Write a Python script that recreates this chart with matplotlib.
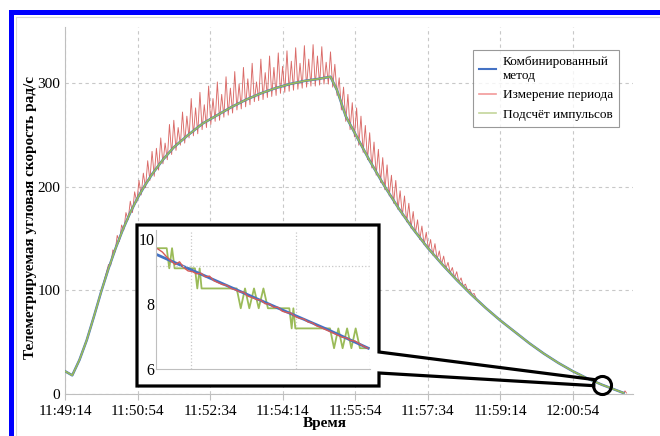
import numpy as np
import matplotlib.pyplot as plt
from matplotlib.lines import Line2D

plt.rcParams['font.family'] = ['Liberation Serif', 'DejaVu Serif']

# time in seconds from 11:49:14
tick_t = [0, 100, 200, 300, 400, 500, 600, 700]
tick_labels = ['11:49:14', '11:50:54', '11:52:34', '11:54:14',
               '11:55:54', '11:57:34', '11:59:14', '12:00:54']

# combined method / pulse count (main scale)
comb_t = [0, 10, 20, 30, 40, 50, 60, 70, 80, 90, 100, 110, 120, 135, 150, 170,
          190, 210, 230, 250, 270, 290, 310, 330, 350, 366, 375, 387, 400, 420,
          440, 460, 480, 500, 520, 540, 560, 580, 600, 620, 640, 660, 680, 700,
          720, 740, 755, 770]
comb_v = [22, 18, 33, 52, 75, 99, 121, 141, 159, 175, 189, 201, 212, 226, 238, 250,
          261, 269, 277, 284, 290, 295, 299, 302, 304, 306, 293, 268, 251, 225,
          201, 179, 159, 141, 125, 110, 96, 83, 71, 60, 49, 39, 30, 22,
          15, 9, 5, 1]
pulse_t = comb_t
pulse_v = comb_v

# period measurement: noisy part sampled every 3 s from t=60 to 567
red_head_t = [0, 10, 20, 30, 40, 50]
red_head_v = [22, 18, 33, 52, 75, 99]
red_noisy_v = [
    125, 124, 139, 137, 153, 147, 163, 158, 175, 168,
    186, 175, 195, 185, 206, 192, 213, 199, 225, 206,
    234, 210, 237, 216, 247, 222, 242, 226, 260, 231,
    264, 235, 257, 240, 272, 242, 268, 247, 285, 249,
    276, 251, 291, 255, 279, 257, 297, 260, 285, 263,
    301, 264, 289, 267, 306, 269, 295, 271, 311, 274,
    299, 275, 315, 277, 304, 279, 319, 282, 301, 283,
    323, 284, 310, 286, 326, 287, 315, 288, 329, 290,
    316, 291, 331, 292, 321, 293, 334, 294, 319, 295,
    336, 296, 323, 297, 337, 297, 326, 298, 335, 299,
    320, 299, 330, 296, 318, 288, 305, 274, 296, 263,
    289, 255, 281, 248, 276, 240, 268, 233, 259, 226,
    252, 218, 243, 211, 236, 204, 228, 197, 221, 191,
    211, 184, 206, 178, 196, 172, 191, 166, 184, 160,
    176, 155, 168, 149, 162, 144, 156, 139, 149, 134,
    145, 130, 138, 125, 133, 121, 127, 117, 122, 112,
    118, 108, 112, 104, 106, 100, 101, 96, 97, 92,
]
red_noisy_t0, red_noisy_dt = 60, 3
red_tail_t = [580, 600, 620, 640, 660, 680, 700, 720, 740, 755, 770, 772, 774]
red_tail_v = [83, 71, 60, 49, 39, 30, 22, 15, 9, 5, 1, 3, 1]

# inset (zoomed segment), x in percent of the inset window
ins_blue_p = [0.8, 20, 40, 60, 80, 99.2]
ins_blue_v = [9.51, 8.95, 8.37, 7.79, 7.22, 6.64]
ins_red_p = [0.8, 3, 5, 7, 9, 11, 13, 15, 17, 19, 21, 23, 25, 27, 29, 31, 33, 35,
             37, 39, 41, 43, 45, 47, 49, 51, 53, 55, 57, 59, 61, 63, 65, 67, 69,
             71, 73, 75, 77, 79, 81, 83, 85, 87, 89, 91, 93, 95, 97, 99]
ins_red_v = [9.70, 9.60, 9.45, 9.33, 9.22, 9.30, 9.12, 9.02, 9.00, 8.93, 8.95,
             8.84, 8.86, 8.72, 8.66, 8.60, 8.58, 8.48, 8.44, 8.38, 8.36, 8.24,
             8.20, 8.14, 8.12, 8.01, 8.00, 7.90, 7.90, 7.78, 7.74, 7.72, 7.62,
             7.56, 7.54, 7.45, 7.42, 7.33, 7.28, 7.22, 7.16, 7.10, 7.04, 6.98,
             6.96, 6.88, 6.86, 6.78, 6.70, 6.64]
ins_green_p = [0.8, 5.0, 6.2, 7.5, 8.7, 17.4, 18.2, 19.3, 20.4, 21.3, 37.7, 39.6,
               41.6, 43.6, 45.8, 48.0, 50.2, 52.3, 62.3, 63.4, 64.2, 65.1, 81.3,
               83.2, 85.2, 87.2, 89.3, 91.3, 93.3, 95.3, 97.3, 99.2]
ins_green_v = [9.72, 9.72, 9.10, 9.72, 9.10, 9.10, 9.10, 8.48, 9.10, 8.48, 8.48,
               7.87, 8.48, 7.87, 8.48, 7.87, 8.48, 7.87, 7.87, 7.25, 7.87, 7.25,
               7.25, 6.64, 7.25, 6.64, 7.25, 6.64, 7.25, 6.64, 6.64, 6.64]

# zoomed point on the main curve
zoom_t, zoom_v = 740, 9

legend_labels = ['Комбинированный\nметод', 'Измерение периода', 'Подсчёт импульсов']

BLUE = '#4472c4'
RED = '#d65a57'
GREEN = '#9bbb59'
GRID = '#c8c8c8'
SPINE = '#bfbfbf'

W, H = 660, 436


def px(x, y):
    # image pixel -> figure fraction
    return x / W, 1 - y / H


fig = plt.figure(figsize=(W / 100, H / 100), dpi=100)
ax = fig.add_axes([65 / W, 1 - 394 / H, 568 / W, 367 / H])

red_t = (red_head_t
         + list(red_noisy_t0 + red_noisy_dt * np.arange(len(red_noisy_v)))
         + red_tail_t)
red_v = red_head_v + red_noisy_v + red_tail_v

ax.plot(red_t, red_v, color=RED, lw=0.65, alpha=0.9, zorder=2)
ax.plot(comb_t, comb_v, color=BLUE, lw=1.8, zorder=3)
ax.plot(pulse_t, pulse_v, color=GREEN, lw=1.2, zorder=4)

ax.set_xlim(0, 783)
ax.set_ylim(0, 354)
ax.set_xticks(tick_t)
ax.set_xticklabels(tick_labels)
ax.set_yticks([0, 100, 200, 300])
ax.grid(True, color=GRID, ls=(0, (3, 3)), lw=0.8)
ax.set_axisbelow(True)
for s in ['top', 'right']:
    ax.spines[s].set_visible(False)
for s in ['left', 'bottom']:
    ax.spines[s].set_color(SPINE)
ax.tick_params(axis='x', length=4, color=SPINE, labelsize=11, pad=4)
ax.tick_params(axis='y', length=0, labelsize=11, pad=3.5)

ax.set_ylabel('Телеметрируемая угловая скорость рад/с', fontsize=11, fontweight='bold')
ax.yaxis.set_label_coords(-0.05, 0.48)
ax.set_xlabel('Время', fontsize=11, fontweight='bold')
ax.xaxis.set_label_coords(0.458, -0.063)

handles = [Line2D([], [], color=BLUE, lw=1.5),
           Line2D([], [], color='#f29a9a', lw=1.2),
           Line2D([], [], color='#c3d69b', lw=1.2)]
leg = ax.legend(handles, legend_labels, loc='upper left', bbox_to_anchor=(0.718, 0.937),
                fontsize=9.5, frameon=True, fancybox=False, edgecolor='#808080',
                handlelength=1.3, handletextpad=0.5, labelspacing=0.55,
                borderpad=0.45, borderaxespad=0)
leg.get_frame().set_linewidth(0.8)

# circle on the zoomed point
ax.plot([zoom_t], [zoom_v], marker='o', ms=13, mfc='none', mec='black', mew=2.2,
        clip_on=False, zorder=6)

# white box behind the inset
box = plt.Rectangle(px(137, 386), 242 / W, 161 / H, transform=fig.transFigure,
                    facecolor='white', edgecolor='none', zorder=1)
fig.patches.append(box)

# callout outline
cx, cy = fig.transFigure.inverted().transform(ax.transData.transform((zoom_t, zoom_v)))
up_end = (cx - 7 / W, cy + 5 / H)
lo_end = (cx - 8 / W, cy - 1 / H)
outline = [up_end, px(379, 352), px(379, 225), px(137, 225), px(137, 386),
           px(379, 386), px(379, 373), lo_end]
fig.lines.append(Line2D([p[0] for p in outline], [p[1] for p in outline],
                        transform=fig.transFigure, color='black', lw=2.3,
                        solid_joinstyle='miter', zorder=5))

# inset axes
axi = fig.add_axes([156 / W, 1 - 369 / H, 214 / W, 139 / H], zorder=3)
axi.set_facecolor('white')
axi.plot(ins_green_p, ins_green_v, color=GREEN, lw=1.3)
axi.plot(ins_blue_p, ins_blue_v, color=BLUE, lw=2.0)
axi.plot(ins_red_p, ins_red_v, color=RED, lw=1.0)
axi.set_xlim(0, 100)
axi.set_ylim(6, 10.28)
axi.set_yticks([6, 8, 10])
axi.set_xticks([16.4, 65.3, 100])
axi.set_xticklabels([])
axi.grid(True, axis='x', color=GRID, ls=':', lw=0.9)
axi.axhline(9.18, color=GRID, ls=':', lw=0.9)
for s in ['top', 'right']:
    axi.spines[s].set_visible(False)
for s in ['left', 'bottom']:
    axi.spines[s].set_color(SPINE)
axi.tick_params(length=0, labelsize=11.5, pad=1)

# blue frame around the figure
fig.lines.append(Line2D([10.8 / W, 10.8 / W, 1.0], [0.0, 1 - 12 / H, 1 - 12 / H],
                        transform=fig.transFigure, color='#0000ff', lw=3.6,
                        solid_joinstyle='miter'))
fig.lines.append(Line2D([16 / W, 16 / W, 1.0], [0.0, 1 - 17 / H, 1 - 17 / H],
                        transform=fig.transFigure, color='#d8d8d8', lw=0.8))

fig.savefig('out.png', dpi=100)
